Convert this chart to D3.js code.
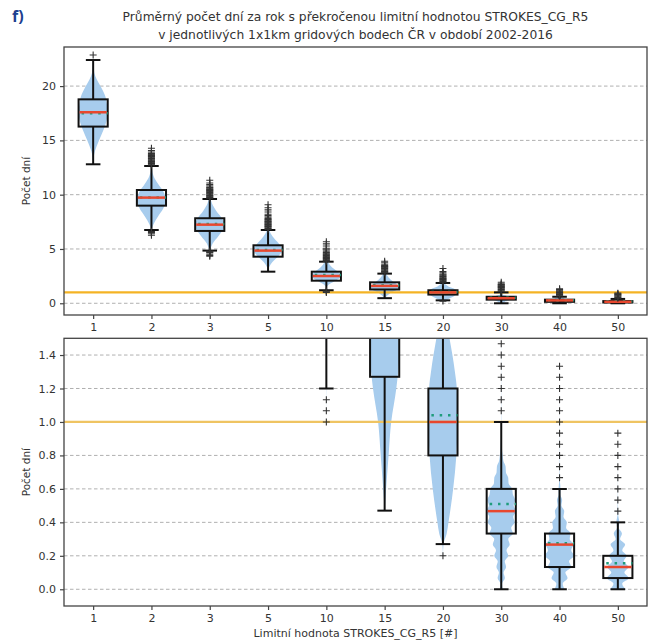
<!DOCTYPE html>
<html>
<head>
<meta charset="utf-8">
<script src="https://cdn.jsdelivr.net/npm/d3@7"></script>
<style>
  body { margin: 0; background: #fff; }
  text { font-family: "DejaVu Sans", sans-serif; fill: #333; }
</style>
</head>
<body>
<svg id="chart" width="654" height="642"></svg>
<script>
// Categories (limit value of STROKES_CG_R5)
const categories = ["1", "2", "3", "5", "10", "15", "20", "30", "40", "50"]

// Box plot statistics, one value per category
const whiskerLow = [12.8, 6.75, 4.85, 2.91, 1.2, 0.47, 0.27, 0, 0, 0]
const q1 = [16.27, 8.99, 6.66, 4.29, 2.08, 1.27, 0.8, 0.333, 0.133, 0.067]
const median = [17.59, 9.73, 7.24, 4.85, 2.51, 1.6, 1.0, 0.467, 0.267, 0.133]
const q3 = [18.78, 10.43, 7.83, 5.34, 2.91, 1.93, 1.2, 0.6, 0.333, 0.2]
const whiskerHigh = [22.4, 12.64, 9.6, 6.75, 3.83, 2.73, 1.87, 1.0, 0.6, 0.4]
const mean = [17.5, 9.75, 7.3, 4.9, 2.6, 1.65, 1.04, 0.51, 0.275, 0.156]

// Outliers (fliers) per category
const outliers = [
  [22.87],
  [12.73, 12.8, 12.87, 12.93, 13.0, 13.07, 13.13, 13.2, 13.27, 13.33, 13.4, 13.47, 13.53, 13.6, 13.67, 13.73, 13.8, 13.93, 14.07, 14.27, 6.6, 6.53, 6.4, 6.27],
  [9.67, 9.73, 9.8, 9.87, 9.93, 10.0, 10.07, 10.13, 10.2, 10.27, 10.33, 10.4, 10.47, 10.53, 10.6, 10.67, 10.8, 10.93, 11.07, 11.33, 4.8, 4.73, 4.67, 4.53, 4.4, 4.33],
  [6.8, 6.87, 6.93, 7.0, 7.07, 7.13, 7.2, 7.27, 7.33, 7.4, 7.47, 7.53, 7.6, 7.67, 7.73, 7.8, 7.93, 8.07, 8.2, 8.4, 8.6, 8.8, 9.07],
  [3.87, 3.93, 4.0, 4.07, 4.13, 4.2, 4.27, 4.33, 4.4, 4.47, 4.53, 4.6, 4.67, 4.8, 4.93, 5.07, 5.27, 5.47, 5.67, 1.133, 1.067, 1.0],
  [2.8, 2.87, 2.93, 3.0, 3.07, 3.13, 3.2, 3.27, 3.33, 3.4, 3.47, 3.6, 3.73, 3.87],
  [1.93, 2.0, 2.07, 2.13, 2.2, 2.27, 2.33, 2.4, 2.47, 2.53, 2.6, 2.67, 2.8, 2.93, 3.2, 0.2],
  [1.067, 1.133, 1.2, 1.267, 1.333, 1.4, 1.467, 1.533, 1.6, 1.667, 1.733, 1.8, 1.93],
  [0.667, 0.733, 0.8, 0.867, 0.933, 1.0, 1.067, 1.133, 1.2, 1.267, 1.333],
  [0.467, 0.533, 0.6, 0.667, 0.733, 0.8, 0.867, 0.933],
]

// Violin outlines: [value, relative half-width 0..1]
const violins = [
  [[12.8, 0], [13.4, 0.03], [14, 0.12], [15, 0.4], [16, 0.72], [17, 0.95], [17.6, 1], [18.3, 0.95], [19, 0.85], [20, 0.5], [20.6, 0.25], [21.2, 0.08], [22, 0.02], [22.9, 0]],
  [[6.2, 0], [6.8, 0.03], [7.3, 0.15], [8, 0.45], [8.7, 0.8], [9.5, 1], [10.2, 0.85], [11, 0.45], [11.7, 0.15], [12.3, 0.04], [13, 0.01], [14.3, 0]],
  [[4.3, 0], [4.9, 0.04], [5.5, 0.2], [6.2, 0.6], [7.0, 0.98], [7.3, 1], [7.8, 0.85], [8.5, 0.45], [9.2, 0.15], [9.8, 0.04], [10.5, 0.01], [11.3, 0]],
  [[2.9, 0], [3.3, 0.06], [3.8, 0.3], [4.4, 0.75], [4.9, 1], [5.4, 0.8], [6, 0.4], [6.6, 0.12], [7.3, 0.03], [8, 0.01], [9.1, 0]],
  [[1.0, 0], [1.5, 0.03], [1.8, 0.25], [2.1, 0.65], [2.5, 1], [2.9, 0.8], [3.3, 0.4], [3.8, 0.12], [4.3, 0.03], [5.7, 0]],
  [[0.47, 0], [0.6, 0.1], [0.8, 0.27], [1.0, 0.45], [1.2, 0.8], [1.4, 1], [1.6, 0.95], [1.9, 0.7], [2.2, 0.4], [2.6, 0.15], [3.0, 0.04], [3.5, 0.01], [3.9, 0]],
  [[0.2, 0], [0.27, 0.04], [0.33, 0.25], [0.4, 0.38], [0.6, 0.7], [0.8, 0.92], [1.0, 1], [1.2, 0.95], [1.3, 0.82], [1.4, 0.65], [1.5, 0.45], [1.7, 0.2], [2.0, 0.06], [2.5, 0.01], [3.2, 0]],
  [[0, 0.1], [0.033, 0.06], [0.067, 0.25], [0.1, 0.16], [0.133, 0.33], [0.167, 0.24], [0.2, 0.48], [0.233, 0.36], [0.267, 0.58], [0.3, 0.48], [0.333, 0.8], [0.367, 0.68], [0.4, 0.92], [0.433, 0.82], [0.467, 1.0], [0.5, 0.85], [0.533, 0.95], [0.567, 0.8], [0.6, 0.75], [0.633, 0.5], [0.667, 0.48], [0.7, 0.32], [0.733, 0.3], [0.767, 0.15], [0.8, 0.1], [0.85, 0.04], [0.95, 0.01], [1.93, 0]],
  [[0, 0.35], [0.033, 0.22], [0.067, 0.55], [0.1, 0.4], [0.133, 0.8], [0.167, 0.65], [0.2, 1.0], [0.233, 0.8], [0.267, 0.95], [0.3, 0.7], [0.333, 0.75], [0.367, 0.45], [0.4, 0.5], [0.433, 0.27], [0.467, 0.32], [0.5, 0.13], [0.533, 0.18], [0.567, 0.06], [0.6, 0.07], [0.65, 0.02], [0.75, 0.01], [1.333, 0]],
  [[0, 0.55], [0.033, 0.3], [0.067, 0.75], [0.1, 0.45], [0.133, 0.72], [0.167, 0.4], [0.2, 0.6], [0.233, 0.3], [0.267, 0.5], [0.3, 0.15], [0.333, 0.28], [0.367, 0.06], [0.4, 0.1], [0.45, 0.02], [0.6, 0.005], [0.933, 0]],
]

// Reference limit (1 day per year)
const limitLine = 1

// Y tick values for both panels
const topTicks = [0, 5, 10, 15, 20]
const bottomTicks = [0, 0.2, 0.4, 0.6, 0.8, 1.0, 1.2, 1.4]

const titleLines = [
  "Průměrný počet dní za rok s překročenou limitní hodnotou STROKES_CG_R5",
  "v jednotlivých 1x1km gridových bodech ČR v období 2002-2016",
]

const svg = d3.select("#chart")
const left = 64
const right = 647

// x scale shared by both panels: category index 0..9, padded half a step
const x = d3.scaleLinear().domain([-0.5, categories.length - 0.5]).range([left, right])
const step = x(1) - x(0)
const boxHalf = step * 0.25
const capHalf = step * 0.125
const violinHalf = step * 0.25

const panels = [
  { id: "top", top: 47, bottom: 315, domain: [-1.08, 23.6], ticks: topTicks, fmt: d3.format("d"), limitColor: "#f4b324" },
  { id: "bot", top: 338.3, bottom: 606, domain: [-0.1, 1.5], ticks: bottomTicks, fmt: d3.format(".1f"), limitColor: "#efc462" },
]

const data = categories.map((c, i) => ({
  i,
  lo: whiskerLow[i],
  q1: q1[i],
  med: median[i],
  q3: q3[i],
  hi: whiskerHigh[i],
  mean: mean[i],
  fliers: outliers[i],
  violin: violins[i],
}))

panels.forEach((p) => {
  const y = d3.scaleLinear().domain(p.domain).range([p.bottom, p.top])
  const g = svg.append("g")

  // Clip area for the plot
  svg.append("clipPath").attr("id", "clip-" + p.id)
    .append("rect").attr("x", left).attr("y", p.top).attr("width", right - left).attr("height", p.bottom - p.top)

  // Dashed horizontal grid
  g.selectAll(".grid").data(p.ticks).enter().append("line")
    .attr("x1", left).attr("x2", right)
    .attr("y1", (d) => y(d)).attr("y2", (d) => y(d))
    .attr("stroke", "#b0b0b0").attr("stroke-width", 1).attr("stroke-dasharray", "3.5,2.5")

  const plot = g.append("g").attr("clip-path", `url(#clip-${p.id})`)

  // Violins
  const area = d3.area()
    .y((d) => y(d[0]))
    .curve(d3.curveMonotoneY)
  plot.selectAll(".violin").data(data).enter().append("path")
    .attr("d", (d) => area
      .x0((v) => x(d.i) - violinHalf * v[1])
      .x1((v) => x(d.i) + violinHalf * v[1])(d.violin))
    .attr("fill", "#a7cced")
    .attr("stroke", "none")

  // Limit line at 1 day
  plot.append("line")
    .attr("x1", left).attr("x2", right)
    .attr("y1", y(limitLine)).attr("y2", y(limitLine))
    .attr("stroke", p.limitColor).attr("stroke-width", 2.2)

  const box = plot.selectAll(".box").data(data).enter().append("g")

  // Whiskers
  box.append("line")
    .attr("x1", (d) => x(d.i)).attr("x2", (d) => x(d.i))
    .attr("y1", (d) => y(d.lo)).attr("y2", (d) => y(d.q1))
    .attr("stroke", "#111").attr("stroke-width", 2)
  box.append("line")
    .attr("x1", (d) => x(d.i)).attr("x2", (d) => x(d.i))
    .attr("y1", (d) => y(d.q3)).attr("y2", (d) => y(d.hi))
    .attr("stroke", "#111").attr("stroke-width", 2)
  // Caps
  ;["lo", "hi"].forEach((k) => {
    box.append("line")
      .attr("x1", (d) => x(d.i) - capHalf).attr("x2", (d) => x(d.i) + capHalf)
      .attr("y1", (d) => y(d[k])).attr("y2", (d) => y(d[k]))
      .attr("stroke", "#111").attr("stroke-width", 2)
  })

  // Box (not filled, violin shows through)
  box.append("rect")
    .attr("x", (d) => x(d.i) - boxHalf)
    .attr("width", boxHalf * 2)
    .attr("y", (d) => y(d.q3))
    .attr("height", (d) => Math.max(0, y(d.q1) - y(d.q3)))
    .attr("fill", "none").attr("stroke", "#111").attr("stroke-width", 2)

  // Mean (green dotted) then median (red)
  box.append("line")
    .attr("x1", (d) => x(d.i) - boxHalf + 3).attr("x2", (d) => x(d.i) + boxHalf)
    .attr("y1", (d) => y(d.mean)).attr("y2", (d) => y(d.mean))
    .attr("stroke", "#1f9c7c").attr("stroke-width", 2.5)
    .attr("stroke-dasharray", "2.5,5.8")
  box.append("line")
    .attr("x1", (d) => x(d.i) - boxHalf + 1).attr("x2", (d) => x(d.i) + boxHalf - 1)
    .attr("y1", (d) => y(d.med)).attr("y2", (d) => y(d.med))
    .attr("stroke", "#e8472e").attr("stroke-width", 2.5)

  // Outliers as "+" markers
  box.each(function (d) {
    d3.select(this).selectAll(".flier").data(d.fliers).enter().append("path")
      .attr("d", (v) => `M${x(d.i) - 3.5},${y(v)}h7M${x(d.i)},${y(v) - 3.5}v7`)
      .attr("stroke", "#333").attr("stroke-width", 1.1).attr("fill", "none")
  })

  // Frame
  g.append("rect")
    .attr("x", left).attr("y", p.top)
    .attr("width", right - left).attr("height", p.bottom - p.top)
    .attr("fill", "none").attr("stroke", "#444").attr("stroke-width", 1.3)

  // Y axis ticks and labels
  const yAxis = g.append("g").attr("transform", `translate(${left},0)`)
    .call(d3.axisLeft(y).tickValues(p.ticks).tickFormat(p.fmt).tickSize(4).tickPadding(4))
  yAxis.select(".domain").remove()
  yAxis.selectAll("line").attr("stroke", "#444").attr("stroke-width", 1.2)
  yAxis.selectAll("text").style("font-size", "11px").style("font-family", "DejaVu Sans").attr("fill", "#333")

  // X axis ticks and labels
  const xAxis = g.append("g").attr("transform", `translate(0,${p.bottom})`)
    .call(d3.axisBottom(x).tickValues(d3.range(categories.length)).tickFormat((i) => categories[i]).tickSize(4).tickPadding(4))
  xAxis.select(".domain").remove()
  xAxis.selectAll("line").attr("stroke", "#444").attr("stroke-width", 1.2)
  xAxis.selectAll("text").style("font-size", "11px").style("font-family", "DejaVu Sans").attr("fill", "#333")

  // Y label
  g.append("text")
    .attr("transform", `translate(30,${(p.top + p.bottom) / 2}) rotate(-90)`)
    .attr("text-anchor", "middle")
    .style("font-size", "10.5px")
    .text("Počet dní")
})

// X axis title
svg.append("text")
  .attr("x", (left + right) / 2).attr("y", 637)
  .attr("text-anchor", "middle")
  .style("font-size", "11px")
  .text("Limitní hodnota STROKES_CG_R5 [#]")

// Chart title
svg.selectAll(".title").data(titleLines).enter().append("text")
  .attr("x", (left + right) / 2)
  .attr("y", (d, i) => 21 + i * 18)
  .attr("text-anchor", "middle")
  .style("font-size", "12.3px")
  .text((d) => d)

// Panel letter
svg.append("text")
  .attr("x", 12).attr("y", 22)
  .style("font-size", "16px").style("font-weight", "bold")
  .style("font-family", "Open Sans, sans-serif")
  .style("fill", "#1d3f8f")
  .text("f)")
</script>
</body>
</html>
